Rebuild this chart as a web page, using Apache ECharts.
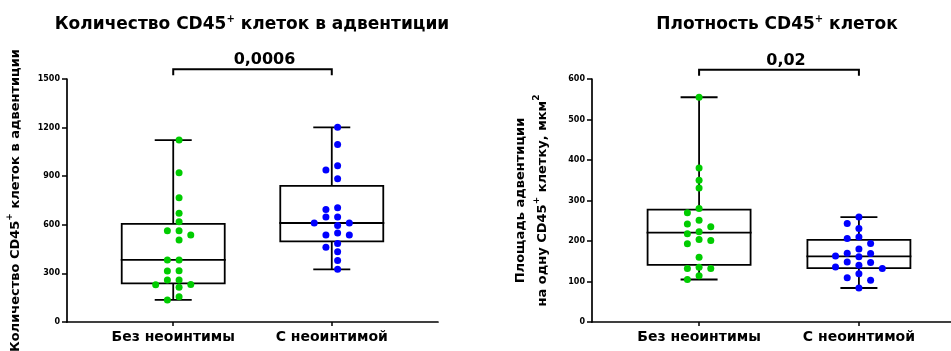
<!DOCTYPE html>
<html><head><meta charset="utf-8">
<script src="https://cdn.jsdelivr.net/npm/echarts@6/dist/echarts.min.js"></script>
<style>html,body{margin:0;padding:0;background:#fff}#c{width:951px;height:351px}</style>
</head><body><div id="c"></div>
<script>
// ---------- data ----------
const categories = ['Без неоинтимы', 'С неоинтимой'];
const countWithout = [1123, 922, 767, 671, 619, 564, 564, 537, 506, 383, 383, 315, 316, 259, 259, 230, 231, 214, 156, 136];
const countWith = [1202, 1095, 965, 938, 885, 706, 695, 648, 648, 611, 611, 595, 549, 537, 537, 484, 461, 434, 379, 325];
const densWithout = [555, 380, 350, 331, 280, 270, 251, 242, 235, 223, 218, 204, 201, 193, 160, 135, 132, 132, 114, 105];
const densWith = [259, 243, 210, 194, 163, 136, 119, 103, 84, 231, 206, 170, 148, 132, 109, 180, 161, 140, 169, 147];
const countTicks = [0, 300, 600, 900, 1200, 1500];
const densTicks = [0, 100, 200, 300, 400, 500, 600];
const pLabels = ['0,0006', '0,02'];
const bracketLevels = [1560, 623];
const groupColors = ['#00cc00', '#0000ff'];

// ---------- helpers ----------
const FONT = '"DejaVu Sans", "Liberation Sans", Arial, sans-serif';
const S = 11.7;   // swarm column spacing, px
const T = 7;      // vertical collision threshold, px
const R = 3.5;    // dot radius

function quant(sorted, p) {
  const pos = (sorted.length + 1) * p;
  const i = Math.floor(pos), f = pos - i;
  if (i < 1) return sorted[0];
  if (i >= sorted.length) return sorted[sorted.length - 1];
  return sorted[i - 1] + f * (sorted[i] - sorted[i - 1]);
}
function stats(vals) {
  const s = vals.slice().sort((a, b) => a - b);
  return [s[0], quant(s, 0.25), quant(s, 0.5), quant(s, 0.75), s[s.length - 1]];
}
function swarm(ys) {
  function layout(even) {
    const order = ys.map((y, i) => i).sort((a, b) => ys[a] - ys[b]);
    const cands = even ? [0.5, -0.5, 1.5, -1.5, 2.5, -2.5, 3.5, -3.5] : [0, -1, 1, -2, 2, -3, 3];
    const placed = [], off = new Array(ys.length).fill(0);
    for (const i of order) {
      for (const c of cands) {
        if (!placed.some(p => p.c === c && Math.abs(p.y - ys[i]) < T)) {
          off[i] = c; placed.push({ c, y: ys[i] }); break;
        }
      }
    }
    return off;
  }
  const a = layout(false), b = layout(true);
  const ma = Math.max(...a.map(Math.abs)), mb = Math.max(...b.map(Math.abs));
  return mb < ma ? b : a;
}
function line(x1, y1, x2, y2, w) {
  return { type: 'line', shape: { x1, y1, x2, y2 }, style: { stroke: '#000', lineWidth: w || 1.8 } };
}
function boxRender(params, api) {
  const gx = api.value(0);
  const s = [1, 2, 3, 4, 5].map(d => api.value(d));
  const x = api.coord([gx, s[0]])[0];
  const y = s.map(v => api.coord([gx, v])[1]);
  const hb = 51.5, hc = 18.5;
  return {
    type: 'group', children: [
      { type: 'rect', shape: { x: x - hb, y: y[3], width: 2 * hb, height: y[1] - y[3] }, style: { stroke: '#000', lineWidth: 1.8, fill: 'none' } },
      line(x - hb - 1, y[2], x + hb + 1, y[2]),
      line(x, y[3], x, y[4]), line(x, y[1], x, y[0]),
      line(x - hc, y[4], x + hc, y[4]), line(x - hc, y[0], x + hc, y[0])
    ]
  };
}
function makePointRender(groups) {
  return function (params, api) {
    const gx = api.value(0), gi = api.value(2), k = api.value(3);
    const vals = groups[gi];
    const ys = vals.map(v => api.coord([gx, v])[1]);
    const offs = swarm(ys);
    const p = api.coord([gx, vals[k]]);
    return { type: 'circle', shape: { cx: p[0] + offs[k] * S, cy: p[1], r: R }, style: { fill: groupColors[gi] } };
  };
}
const P_TEXT_DX = [12, 7];
function bracketRender(params, api) {
  const i = api.value(3);
  const a = api.coord([api.value(0), api.value(2)]);
  const b = api.coord([api.value(1), api.value(2)]);
  return {
    type: 'group', children: [
      { type: 'polyline', shape: { points: [[a[0], a[1] + 6], [a[0], a[1]], [b[0], b[1]], [b[0], b[1] + 6]] }, style: { stroke: '#000', lineWidth: 2, fill: null } },
      { type: 'text', x: (a[0] + b[0]) / 2 + P_TEXT_DX[i], y: a[1] - 9, style: { text: pLabels[i], align: 'center', verticalAlign: 'middle', font: 'bold 16px ' + FONT, fill: '#000' } }
    ]
  };
}
function pointData(groups) {
  const d = [];
  groups.forEach((vals, gi) => vals.forEach((v, k) => d.push([gi + 1, v, gi, k])));
  return d;
}
function boxData(groups) { return groups.map((vals, gi) => [gi + 1].concat(stats(vals))); }

const axisLineStyle = { color: '#000', width: 1.7 };
function xAxis(gi) {
  return {
    type: 'value', gridIndex: gi, min: 0.33, max: 2.67,
    axisLine: { show: true, onZero: false, lineStyle: axisLineStyle },
    axisTick: { show: true, customValues: [1, 2], length: 4, lineStyle: { color: '#000', width: 1.5 } },
    axisLabel: { customValues: [1, 2], formatter: v => categories[Math.round(v) - 1], margin: 8, fontFamily: FONT, fontWeight: 'bold', fontSize: 14, color: '#000' },
    splitLine: { show: false }
  };
}
const richName = {
  t: { fontFamily: FONT, fontWeight: 'bold', fontSize: 13, color: '#000', lineHeight: 22 },
  s: { fontFamily: FONT, fontWeight: 'bold', fontSize: 9, color: '#000', lineHeight: 22, verticalAlign: 'top' }
};
function yAxis(gi, ticks, name, gap) {
  return {
    type: 'value', gridIndex: gi, min: ticks[0], max: ticks[ticks.length - 1], interval: ticks[1] - ticks[0],
    axisLine: { show: true, lineStyle: axisLineStyle },
    axisTick: { show: true, length: 5, lineStyle: { color: '#000', width: 1.5 } },
    axisLabel: { margin: 7, formatter: v => String(v), fontFamily: FONT, fontWeight: 'bold', fontSize: 8, color: '#000' },
    splitLine: { show: false },
    name, nameLocation: 'middle', nameRotate: 90, nameGap: gap,
    nameTextStyle: { rich: richName }
  };
}
const titleRich = {
  t: { fontFamily: FONT, fontWeight: 'bold', fontSize: 17, color: '#000', lineHeight: 21 },
  s: { fontFamily: FONT, fontWeight: 'bold', fontSize: 10, color: '#000', lineHeight: 21, verticalAlign: 'top' }
};

const leftGroups = [countWithout, countWith];
const rightGroups = [densWithout, densWith];

const chart = echarts.init(document.getElementById('c'), null, { renderer: 'canvas' });
chart.setOption({
  animation: false,
  backgroundColor: '#fff',
  graphic: [
    { type: 'text', x: 252, y: 25, style: { text: '{t|Количество CD45}{s|+}{t| клеток в адвентиции}', align: 'center', verticalAlign: 'middle', rich: titleRich } },
    { type: 'text', x: 777, y: 25, style: { text: '{t|Плотность CD45}{s|+}{t| клеток}', align: 'center', verticalAlign: 'middle', rich: titleRich } }
  ],
  grid: [
    { left: 67, right: 513, top: 79, bottom: 29, outerBoundsMode: 'none', containLabel: false },
    { left: 592, right: -15, top: 79, bottom: 29, outerBoundsMode: 'none', containLabel: false }
  ],
  xAxis: [xAxis(0), xAxis(1)],
  yAxis: [
    yAxis(0, countTicks, '{t|Количество CD45}{s|+}{t| клеток в адвентиции}', 40),
    yAxis(1, densTicks, '{t|Площадь адвентиции}\n{t|на одну CD45}{s|+}{t| клетку, мкм}{s|2}', 38)
  ],
  series: [
    { type: 'custom', xAxisIndex: 0, yAxisIndex: 0, renderItem: boxRender, data: boxData(leftGroups), encode: { x: 0, y: [1, 5] }, z: 2, clip: false },
    { type: 'custom', xAxisIndex: 0, yAxisIndex: 0, renderItem: makePointRender(leftGroups), data: pointData(leftGroups), encode: { x: 0, y: 1 }, z: 3, clip: false },
    { type: 'custom', xAxisIndex: 0, yAxisIndex: 0, renderItem: bracketRender, data: [[1, 2, bracketLevels[0], 0]], encode: { x: [0, 1], y: 2 }, z: 3, clip: false },
    { type: 'custom', xAxisIndex: 1, yAxisIndex: 1, renderItem: boxRender, data: boxData(rightGroups), encode: { x: 0, y: [1, 5] }, z: 2, clip: false },
    { type: 'custom', xAxisIndex: 1, yAxisIndex: 1, renderItem: makePointRender(rightGroups), data: pointData(rightGroups), encode: { x: 0, y: 1 }, z: 3, clip: false },
    { type: 'custom', xAxisIndex: 1, yAxisIndex: 1, renderItem: bracketRender, data: [[1, 2, bracketLevels[1], 1]], encode: { x: [0, 1], y: 2 }, z: 3, clip: false }
  ]
});
</script></body></html>
